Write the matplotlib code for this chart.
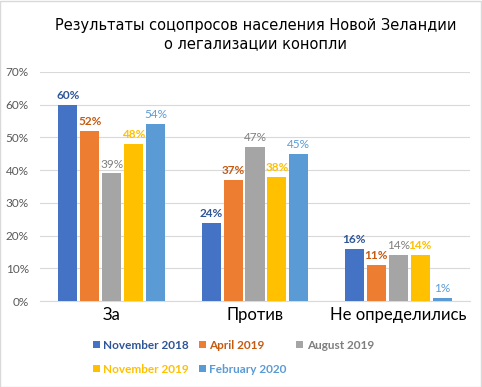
import numpy as np
import matplotlib.pyplot as plt
from matplotlib.patches import Rectangle

# data
categories = ["За", "Против", "Не определились"]
series = ["November 2018", "April 2019", "August 2019", "November 2019", "February 2020"]
values = [
    [60, 24, 16],
    [52, 37, 11],
    [39, 47, 14],
    [48, 38, 14],
    [54, 45, 1],
]
y_ticks = [0, 10, 20, 30, 40, 50, 60, 70]

colors = ["#4472C4", "#ED7D31", "#A5A5A5", "#FFC000", "#5B9BD5"]
label_colors = ["#2F5597", "#C55A11", "#7F7F7F", "#FFC000", "#5B9BD5"]
label_weights = ["bold", "bold", "normal", "bold", "normal"]
fonts = ["Lato", "DejaVu Sans"]

plt.rcParams['font.family'] = fonts

fig = plt.figure(figsize=(4.82, 3.87), dpi=100)
fig.patches.append(Rectangle((0.001, 0.001), 0.997, 0.997, transform=fig.transFigure,
                             fill=False, edgecolor="#D9D9D9", linewidth=1))
ax = fig.add_axes([0.083, 0.222, 0.892, 0.592])

x = np.arange(len(categories))
step = 0.153
width = 0.133
handles = []
for i, name in enumerate(series):
    pos = x + (i - 2) * step
    b = ax.bar(pos, values[i], width, color=colors[i], label=name, zorder=3)
    handles.append(b)
    for px, v in zip(pos, values[i]):
        ax.text(px, v + 1.2, "{}%".format(v), ha="center", va="bottom",
                fontsize=8.5, color=label_colors[i], fontweight=label_weights[i])

ax.set_xlim(-0.5, 2.5)
ax.set_ylim(0, 70)
ax.set_yticks(y_ticks)
ax.set_yticklabels(["{}%".format(t) for t in y_ticks], fontsize=8.5, color="#595959")
ax.set_xticks(x)
ax.set_xticklabels(categories, fontsize=12, color="#000000")
ax.tick_params(length=0, pad=4)
ax.tick_params(axis="y", pad=8)
ax.grid(axis="y", color="#D9D9D9", linewidth=0.8, zorder=0)
for s in ["left", "right", "top"]:
    ax.spines[s].set_visible(False)
ax.spines["bottom"].set_color("#D9D9D9")

fig.text(0.53, 0.91, "Результаты соцопросов населения Новой Зеландии\nо легализации конопли",
         ha="center", va="center", fontsize=10.5, family="DejaVu Sans", linespacing=1.25)

order = [0, 3, 1, 4, 2]
leg = fig.legend([handles[k] for k in order], [series[k] for k in order],
                 loc="center", bbox_to_anchor=(0.484, 0.077), ncol=3, frameon=False,
                 prop={"size": 8.5, "weight": "bold"},
                 labelcolor=[label_colors[k] for k in order],
                 handlelength=0.6, handleheight=0.6, handletextpad=0.3,
                 columnspacing=0.8, labelspacing=1.1)

fig.savefig("out.png", dpi=100)
